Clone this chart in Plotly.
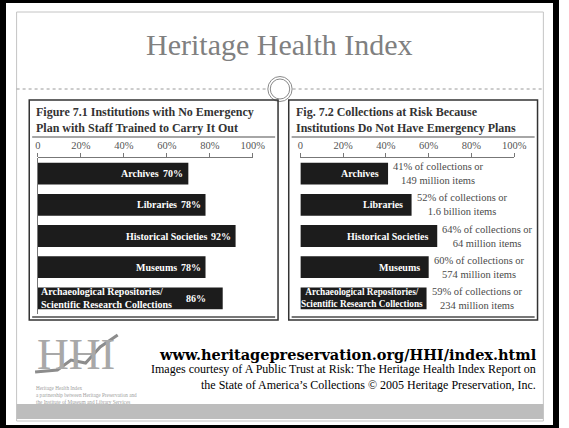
import plotly.graph_objects as go

W, H = 569, 428

# ---------------- data ----------------
left_title = ["Figure 7.1 Institutions with No Emergency", "Plan with Staff Trained to Carry It Out"]
right_title = ["Fig. 7.2 Collections at Risk Because", "Institutions Do Not Have Emergency Plans"]
categories = ["Archives", "Libraries", "Historical Societies", "Museums",
              "Archaeological Repositories/<br>Scientific Research Collections"]
no_plan_pct = [70, 78, 92, 78, 86]
at_risk_pct = [41, 52, 64, 60, 59]
at_risk_items = ["149 million items", "1.6 billion items", "64 million items",
                 "574 million items", "234 million items"]
tick_vals = [0, 20, 40, 60, 80, 100]
tick_text = ["0", "20%", "40%", "60%", "80%", "100%"]

def px(x):
    return x / W

def py(y):
    return 1 - y / H

SERIF = "Liberation Serif"
fig = go.Figure()

ypos = list(range(len(categories)))
fig.add_trace(go.Bar(x=no_plan_pct, y=ypos, orientation="h", width=0.7,
                     marker=dict(color="#1c1c1c", line=dict(width=0)),
                     xaxis="x", yaxis="y", hoverinfo="skip", showlegend=False))
fig.add_trace(go.Bar(x=at_risk_pct, y=ypos, orientation="h", width=0.7,
                     marker=dict(color="#1c1c1c", line=dict(width=0)),
                     xaxis="x2", yaxis="y2", hoverinfo="skip", showlegend=False))

y_dom = [py(314), py(158)]
axis_common = dict(range=[0, 100], side="top", showline=True, linecolor="#777", linewidth=1,
                   ticks="outside", ticklen=4, tickcolor="#777", tickvals=tick_vals,
                   ticktext=tick_text, showgrid=False, zeroline=False, fixedrange=True,
                   tickfont=dict(family=SERIF, size=10.5, color="#555"))
fig.update_layout(
    width=W, height=H, margin=dict(l=0, r=0, t=0, b=0),
    paper_bgcolor="white", plot_bgcolor="rgba(0,0,0,0)",
    xaxis=dict(domain=[px(36), px(257)], anchor="y", **axis_common),
    xaxis2=dict(domain=[px(306), px(526)], anchor="y2", **axis_common),
    yaxis=dict(domain=y_dom, range=[4.5, -0.5], showticklabels=False, showgrid=False,
               zeroline=False, showline=False, fixedrange=True),
    yaxis2=dict(domain=y_dom, range=[4.5, -0.5], showticklabels=False, showgrid=False,
                zeroline=False, showline=True, linecolor="#777", linewidth=1, fixedrange=True),
    bargap=0.3,
)

ann = []
shapes = []

# outer black border and page frame
shapes.append(dict(type="rect", xref="paper", yref="paper", x0=0, x1=1, y0=0, y1=1,
                   line=dict(color="black", width=6)))
shapes.append(dict(type="rect", xref="paper", yref="paper", x0=px(14), x1=px(556), y0=py(421), y1=py(12),
                   line=dict(color="#c4c4c4", width=1)))
# bottom gray band
shapes.append(dict(type="rect", xref="paper", yref="paper", x0=px(14), x1=px(556), y0=py(419), y1=py(404),
                   fillcolor="#bdbdbd", line=dict(width=0)))
# dashed divider with double circle
shapes.append(dict(type="line", xref="paper", yref="paper", x0=px(14), x1=px(272), y0=py(89), y1=py(89),
                   line=dict(color="#9a9a9a", width=1, dash="dot")))
shapes.append(dict(type="line", xref="paper", yref="paper", x0=px(298), x1=px(556), y0=py(89), y1=py(89),
                   line=dict(color="#9a9a9a", width=1, dash="dot")))
for r in (12.5, 10):
    shapes.append(dict(type="circle", xref="paper", yref="paper", x0=px(285 - r), x1=px(285 + r),
                       y0=py(89 + r), y1=py(89 - r), line=dict(color="#8a8a8a", width=1),
                       fillcolor="white"))

# title
ann.append(dict(text="Heritage Health Index", xref="paper", yref="paper", x=px(285), y=py(44),
                showarrow=False, xanchor="center", yanchor="middle",
                font=dict(family=SERIF, size=30, color="#808080")))

# panels
for (x0, x1, title, tx) in ((27, 283, left_title, 32), (294, 550, right_title, 299)):
    shapes.append(dict(type="rect", xref="paper", yref="paper", x0=px(x0), x1=px(x1), y0=py(320), y1=py(100),
                       line=dict(color="#333", width=1.5)))
    shapes.append(dict(type="line", xref="paper", yref="paper", x0=px(x0 + 3), x1=px(x1 - 3), y0=py(137), y1=py(137),
                       line=dict(color="#888", width=1.5)))
    shapes.append(dict(type="line", xref="paper", yref="paper", x0=px(x0 + 3), x1=px(x1 - 3), y0=py(317), y1=py(317),
                       line=dict(color="#777", width=2)))
    ann.append(dict(text="<b>" + title[0] + "<br>" + title[1] + "</b>", xref="paper", yref="paper",
                    x=px(tx), y=py(120), xanchor="left", yanchor="middle", align="left", showarrow=False,
                    font=dict(family=SERIF, size=12, color="#333")))

# left chart labels
for i, (cat, v) in enumerate(zip(categories, no_plan_pct)):
    multi = "<br>" in cat
    ann.append(dict(text="<b>%d%%</b>" % v, x=v, y=i, xref="x", yref="y", xanchor="right",
                    yanchor="middle", xshift=-15 if multi else -3, showarrow=False,
                    font=dict(family=SERIF, size=10, color="white")))
    ann.append(dict(text="<b>" + cat + "</b>", x=v, y=i, xref="x", yref="y", xanchor="right",
                    yanchor="middle", align="left", xshift=-49 if multi else -27, showarrow=False,
                    font=dict(family=SERIF, size=10, color="white")))

# right chart labels
for i, (cat, v, items) in enumerate(zip(categories, at_risk_pct, at_risk_items)):
    multi = "<br>" in cat
    ann.append(dict(text="<b>" + cat + "</b>", x=v, y=i, xref="x2", yref="y2", xanchor="right",
                    yanchor="middle", align="center", xshift=-2 if multi else -7, showarrow=False,
                    font=dict(family=SERIF, size=9.3 if multi else 10, color="white")))
    ann.append(dict(text="%d%% of collections or<br>%s" % (v, items), x=v, y=i, xref="x2", yref="y2",
                    xanchor="left", yanchor="middle", align="center", xshift=3, showarrow=False,
                    font=dict(family=SERIF, size=10.5, color="#4a4a4a")))

# logo
ann.append(dict(text="HHI", xref="paper", yref="paper", x=px(75), y=py(354), xanchor="center",
                yanchor="middle", showarrow=False,
                font=dict(family=SERIF, size=44, color="#a8a8a8")))
shapes.append(dict(type="path", xref="paper", yref="paper",
                   path="M %f,%f L %f,%f L %f,%f L %f,%f L %f,%f L %f,%f" % (
                       px(33), py(372), px(56), py(370), px(70), py(360), px(85), py(363),
                       px(100), py(347), px(118), py(335)),
                   line=dict(color="#8c8c8c", width=3)))
ann.append(dict(text="Heritage Health Index<br>a partnership between Heritage Preservation and"
                     "<br>the Institute of Museum and Library Services",
                xref="paper", yref="paper", x=px(32), y=py(395), xanchor="left", yanchor="middle",
                align="left", showarrow=False, font=dict(family=SERIF, size=5.2, color="#a0a0a0")))

# footer text
ann.append(dict(text="<b>www.heritagepreservation.org/HHI/index.html</b>", xref="paper", yref="paper",
                x=px(552), y=py(354), xanchor="right", yanchor="middle", showarrow=False,
                font=dict(family="DejaVu Serif", size=14.5, color="black")))
ann.append(dict(text="Images courtesy of A Public Trust at Risk: The Heritage Health Index Report on"
                     "<br>the State of America\u2019s Collections \u00a9 2005 Heritage Preservation, Inc.",
                xref="paper", yref="paper", x=px(550), y=py(377), xanchor="right", yanchor="middle",
                align="right", showarrow=False, font=dict(family=SERIF, size=12, color="black")))

fig.update_layout(annotations=ann, shapes=shapes)
fig.write_html("out.html")
